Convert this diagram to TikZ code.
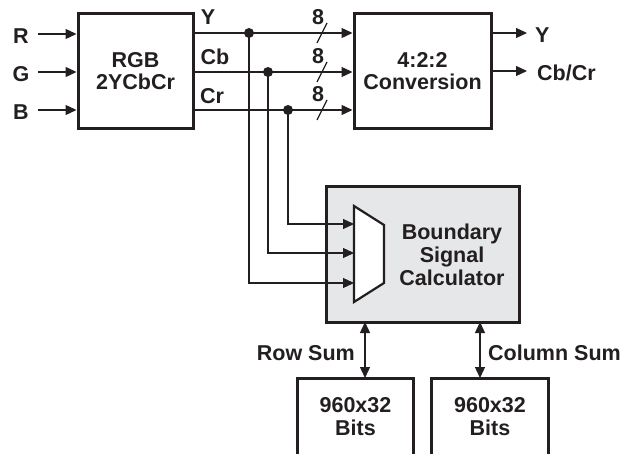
\documentclass[tikz,border=0pt]{standalone}
\usepackage{fontspec}
\setmainfont{Liberation Sans}
\usetikzlibrary{arrows.meta}
\definecolor{ink}{HTML}{231F20}
\definecolor{calcfill}{HTML}{E6E7E8}
\begin{document}
\begin{tikzpicture}[x=1pt,y=-1pt,
  font=\bfseries\fontsize{21.5}{22}\selectfont,
  every node/.style={text=ink},
  blk/.style={draw=ink, line width=3pt, align=center, inner sep=0pt},
  wire/.style={draw=ink, line width=1.3pt},
  arr/.style={wire, -{Triangle[length=11pt,width=10pt]}},
  biarr/.style={wire, {Triangle[length=11pt,width=10pt]}-{Triangle[length=11pt,width=10pt]}},
  dot/.style={circle, fill=ink, inner sep=0pt, minimum size=10pt},
  lbl/.style={inner sep=0pt}]
\useasboundingbox (0,0) rectangle (621,454);

% blocks
\node[blk, minimum width=115pt, minimum height=115pt] (rgb) at (135.5,71.5) {RGB\\2YCbCr};
\node[blk, minimum width=137pt, minimum height=115pt] (conv) at (422.5,71.5) {4:2:2\\Conversion};
\node[blk, fill=calcfill, minimum width=193pt, minimum height=135pt] (calc) at (422.5,254.5) {};
\node[lbl, align=center, font=\bfseries\fontsize{21.5}{23}\selectfont] (calctxt) at (452,255) {Boundary\\Signal\\Calculator};

% mux trapezoid
\draw[draw=ink, line width=2.2pt, fill=white] (354,206) -- (384,225) -- (384,283) -- (354,302) -- cycle;
\coordinate (m1) at (354,224);
\coordinate (m2) at (354,253);
\coordinate (m3) at (354,283);

% memory blocks (open at the bottom)
\node[align=center, inner sep=0pt, minimum width=115pt, minimum height=76pt, anchor=north, font=\bfseries\fontsize{21.5}{23}\selectfont] (memA) at (355.5,378) {960x32\\Bits};
\node[align=center, inner sep=0pt, minimum width=116pt, minimum height=76pt, anchor=north, font=\bfseries\fontsize{21.5}{23}\selectfont] (memB) at (490,378) {960x32\\Bits};
\draw[draw=ink, line width=3pt] (memA.south west) -- (memA.north west) -- (memA.north east) -- (memA.south east);
\draw[draw=ink, line width=3pt] (memB.south west) -- (memB.north west) -- (memB.north east) -- (memB.south east);

% inputs
\node[lbl] (R) at (21,36) {R};
\node[lbl] (G) at (21,74) {G};
\node[lbl] (B) at (21,112) {B};
\coordinate (rin) at (38,34);
\coordinate (gin) at (38,72);
\coordinate (bin) at (38,110);
\draw[arr] (rin) -- (rin -| rgb.west);
\draw[arr] (gin) -- (gin -| rgb.west);
\draw[arr] (bin) -- (bin -| rgb.west);

% output labels of RGB block
\node[lbl] (Ylbl) at (208,17) {Y};
\node[lbl] (Cblbl) at (215,57) {Cb};
\node[lbl] (Crlbl) at (212,96) {Cr};

% buses to conversion
\coordinate (ys) at (193,33);
\coordinate (cbs) at (193,72);
\coordinate (crs) at (193,110);
\draw[arr] (ys) -- (ys -| conv.west);
\draw[arr] (cbs) -- (cbs -| conv.west);
\draw[arr] (crs) -- (crs -| conv.west);

% taps
\node[dot] (dy) at (249,33) {};
\node[dot] (dcb) at (268,72) {};
\node[dot] (dcr) at (288,110) {};
\draw[arr] (dy.center) |- (m3);
\draw[arr] (dcb.center) |- (m2);
\draw[arr] (dcr.center) |- (m1);

% bus width marks
\foreach \yy/\nm in {33/a,72/b,110/c}{
  \draw[wire] (317,\yy+10) -- (327,\yy-10);
  \node[lbl] (w\nm) at (318,\yy-16) {8};
}

% outputs of conversion
\coordinate (yo) at (conv.east |- 0,33);
\coordinate (co) at (conv.east |- 0,71);
\node[lbl, anchor=west] (Yout) at (535,35) {Y};
\node[lbl, anchor=west] (CbCrout) at (537,73) {Cb/Cr};
\draw[arr] (yo) -- (527,33);
\draw[arr] (co) -- (527,71);

% row / column sum
\draw[biarr] (365,322) -- (365,378);
\draw[biarr] (480,322) -- (480,378);
\node[lbl, anchor=east] (rowsum) at (355,353) {Row Sum};
\node[lbl, anchor=west] (colsum) at (488,353) {Column Sum};
\end{tikzpicture}
\end{document}
